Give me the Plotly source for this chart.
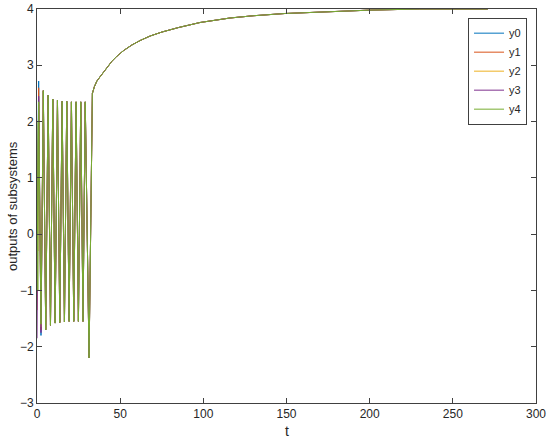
import plotly.graph_objects as go

# ---- data ----
series_names = ["y0", "y1", "y2", "y3", "y4"]
colors = ["#0072BD", "#D95319", "#EDB120", "#7E2F8E", "#77AC30"]

# early transients (differ between subsystems)
t_early = [0.0, 0.5, 1.0, 2.4]
y0_early = [-0.3, 1.2, 2.72, -1.80]
y1_early = [-1.35, 0.6, 2.60, -1.70]
y2_early = [0.0, -0.3, 2.30, -1.65]
y3_early = [-1.85, 0.4, 2.45, -1.75]
y4_early = [2.0, -1.0, 2.35, -1.60]

# common trajectory once the subsystems are synchronised
t_tail = [3.8, 5.25, 6.7, 8.1, 9.5, 10.9, 12.3, 13.7, 15.1, 16.5, 17.9, 19.3,
          20.7, 22.1, 23.5, 24.9, 26.3, 27.65, 29.0, 31.3, 33.3, 34.5, 36.0,
          38.0, 41.0, 45.0, 48.0, 52.0, 57.0, 62.0, 68.0, 75.0, 85.0, 98.0,
          116.0, 130.0, 149.0, 170.0, 200.0, 230.0, 271.0]
y_tail = [2.55, -1.70, 2.47, -1.62, 2.40, -1.58, 2.38, -1.57, 2.36, -1.56,
          2.36, -1.55, 2.35, -1.55, 2.35, -1.55, 2.35, -1.55, 2.35, -2.20,
          2.50, 2.62, 2.72, 2.80, 2.92, 3.07, 3.16, 3.26, 3.36, 3.44, 3.52,
          3.59, 3.67, 3.76, 3.84, 3.88, 3.92, 3.95, 3.98, 4.00, 4.00]

x_ticks = [0, 50, 100, 150, 200, 250, 300]
y_ticks = [-3, -2, -1, 0, 1, 2, 3, 4]

early = [y0_early, y1_early, y2_early, y3_early, y4_early]

FONT = "Liberation Sans"
TXT = "#262626"

fig = go.Figure()
for name, col, ye in zip(series_names, colors, early):
    fig.add_trace(go.Scatter(
        x=t_early + t_tail, y=ye + y_tail, mode="lines", name=name,
        line=dict(color=col, width=1)))

axis_common = dict(
    showline=True, linecolor="#404040", linewidth=1, mirror="ticks",
    ticks="inside", ticklen=5, tickcolor="#404040", showgrid=False,
    zeroline=False, automargin=False,
    tickfont=dict(family=FONT, size=12, color=TXT),
)
fig.update_xaxes(range=[0, 300], tickvals=x_ticks, **axis_common)
fig.update_yaxes(range=[-3, 4], tickvals=y_ticks, **axis_common)

fig.update_layout(
    width=550, height=442,
    margin=dict(l=37, r=14, t=9, b=39),
    paper_bgcolor="white", plot_bgcolor="white",
    showlegend=True,
    legend=dict(x=0.982, y=0.978, xanchor="right", yanchor="top",
                bordercolor="#404040", borderwidth=1, bgcolor="white",
                font=dict(family=FONT, size=11, color=TXT),
                tracegroupgap=0, itemwidth=30),
    annotations=[
        dict(text="t", xref="paper", yref="paper", x=0.5, y=-0.071,
             xanchor="center", yanchor="middle", showarrow=False,
             font=dict(family=FONT, size=14, color=TXT)),
        dict(text="outputs of subsystems", xref="paper", yref="paper",
             x=-0.050, y=0.5, xanchor="center", yanchor="middle",
             textangle=-90, showarrow=False,
             font=dict(family=FONT, size=13, color=TXT)),
    ],
)
fig.write_html("out.html", config={"displayModeBar": False},
               post_script="document.body.style.margin='0';document.body.style.overflow='hidden';")
